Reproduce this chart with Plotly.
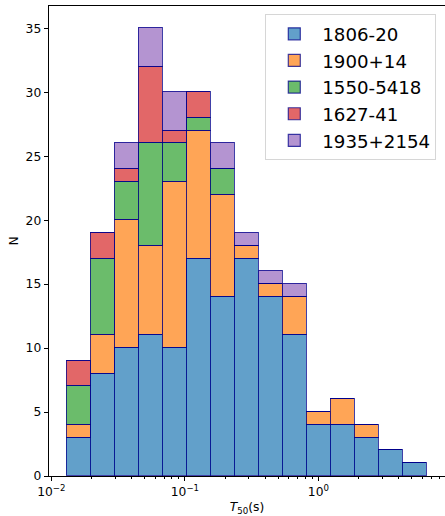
import plotly.graph_objects as go

# T50 bin edges (seconds), log-spaced
bin_edges = [0.01309, 0.01981, 0.02997, 0.04533, 0.06858, 0.1038, 0.1569, 0.2374,
             0.3592, 0.5435, 0.8222, 1.244, 1.882, 2.847, 4.307, 6.516]

# Burst counts per bin for each source
counts_1806_20 = [3, 8, 10, 11, 10, 17, 14, 17, 14, 11, 4, 4, 3, 2, 1]
counts_1900_14 = [1, 3, 10, 7, 13, 10, 8, 1, 1, 3, 1, 2, 1, 0, 0]
counts_1550_5418 = [3, 6, 3, 8, 3, 1, 2, 0, 0, 0, 0, 0, 0, 0, 0]
counts_1627_41 = [2, 2, 1, 6, 1, 2, 0, 0, 0, 0, 0, 0, 0, 0, 0]
counts_1935_2154 = [0, 0, 2, 3, 3, 0, 2, 1, 1, 1, 0, 0, 0, 0, 0]

source_names = ["1806-20", "1900+14", "1550-5418", "1627-41", "1935+2154"]
source_counts = [counts_1806_20, counts_1900_14, counts_1550_5418, counts_1627_41, counts_1935_2154]
source_colors = ["rgba(31,119,180,0.7)", "rgba(255,127,14,0.7)", "rgba(44,160,44,0.7)",
                 "rgba(214,39,40,0.7)", "rgba(148,103,189,0.7)"]
edge_color = "rgba(0,0,139,0.75)"

FONT = "DejaVu Sans"
BASE = 12.3

left_edges = bin_edges[:-1]
bin_widths = [b - a for a, b in zip(bin_edges[:-1], bin_edges[1:])]

fig = go.Figure()
for name, counts, color in zip(source_names, source_counts, source_colors):
    fig.add_trace(go.Bar(
        x=left_edges,
        y=counts,
        offset=0,
        width=bin_widths,
        name=name,
        marker=dict(color=color, line=dict(color=edge_color, width=1.2)),
    ))

minor_vals = [k * 10.0 ** n for n in (-3, -2, -1, 0) for k in range(2, 10)]

fig.update_layout(
    width=445,
    height=516,
    margin=dict(l=49, r=0, t=6, b=40),
    barmode="stack",
    bargap=0,
    plot_bgcolor="white",
    paper_bgcolor="white",
    font=dict(family=FONT, size=BASE, color="black"),
    legend=dict(
        x=0.978, xanchor="right", y=0.982, yanchor="top",
        traceorder="normal",
        font=dict(family=FONT, size=18.2, color="black"),
        bgcolor="rgba(255,255,255,0.8)",
        bordercolor="rgba(204,204,204,0.8)",
        borderwidth=1,
        itemwidth=46,
    ),
    xaxis=dict(
        type="log",
        range=[-2.018, 0.948],
        tickvals=[0.01, 0.1, 1],
        ticktext=["10<sup>−2</sup>", "10<sup>−1</sup>", "10<sup>0</sup>"],
        ticks="outside", ticklen=4.3, tickwidth=1, tickcolor="black",
        minor=dict(tickvals=minor_vals, ticks="outside", ticklen=2.4, tickwidth=0.8,
                   tickcolor="black", showgrid=False),
        showline=True, linecolor="black", linewidth=1, mirror=True,
        showgrid=False, zeroline=False,
        title=dict(text="<i>T</i><sub>50</sub>(s)", font=dict(size=BASE), standoff=4),
    ),
    yaxis=dict(
        range=[0, 36.75],
        tickvals=[0, 5, 10, 15, 20, 25, 30, 35],
        ticks="outside", ticklen=4.3, tickwidth=1, tickcolor="black",
        showline=True, linecolor="black", linewidth=1,
        showgrid=False, zeroline=False,
        title=dict(text="N", font=dict(size=BASE), standoff=4),
    ),
)

fig.write_html("out.html")
